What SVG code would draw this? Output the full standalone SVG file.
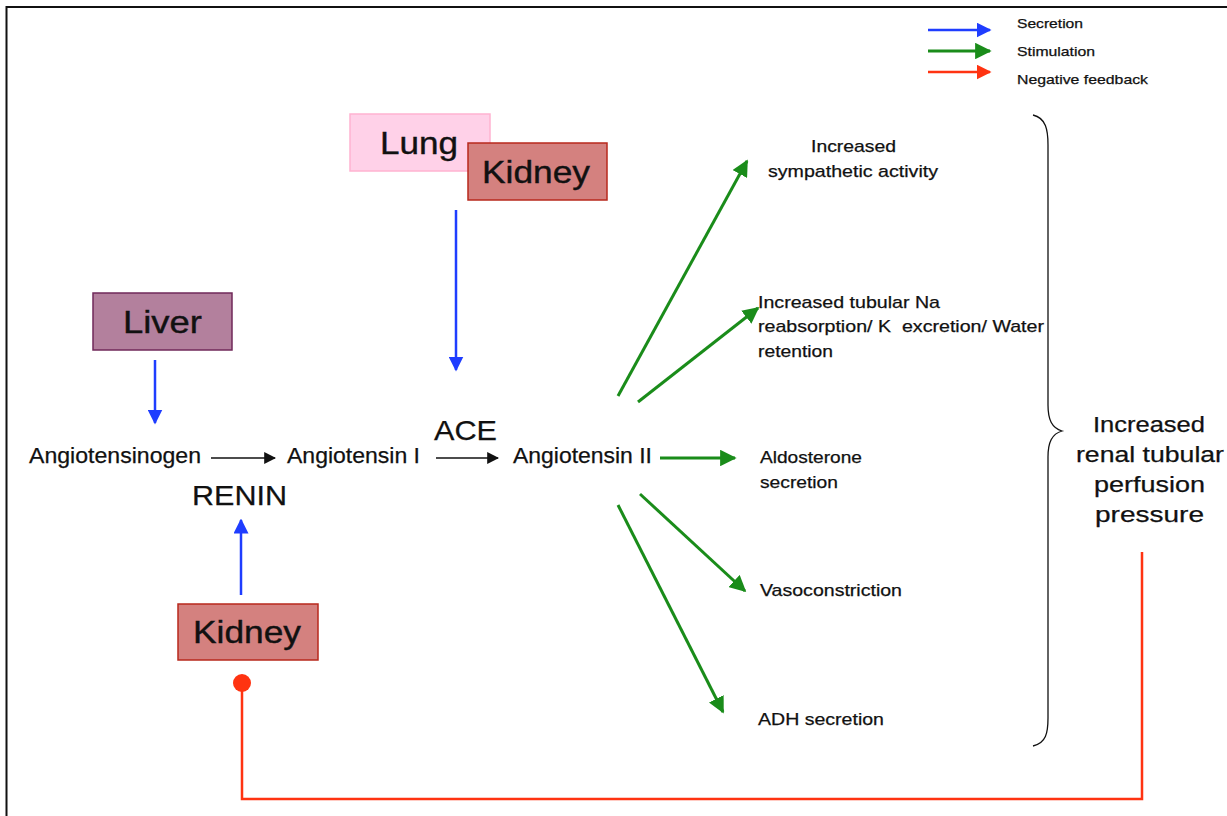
<svg xmlns="http://www.w3.org/2000/svg" width="1227" height="816" viewBox="0 0 1227 816">
<defs>
<style>
text{font-family:"Liberation Sans",Arial,sans-serif;fill:#111}
.box{font-size:32px;stroke:#111;stroke-width:0.4}
.mol{font-size:22px;stroke:#111;stroke-width:0.25}
.enz{font-size:28px;stroke:#111;stroke-width:0.25}
.eff{font-size:17px;stroke:#111;stroke-width:0.25}
.leg{font-size:13px;stroke:#111;stroke-width:0.25}
.blue{stroke:#1f3dff;stroke-width:2.5;fill:none}
.green{stroke:#1a8c1a;stroke-width:3;fill:none}
.red{stroke:#ff3311;stroke-width:2.5;fill:none}
.black{stroke:#111;stroke-width:1.5;fill:none}
</style>
<marker id="mb" viewBox="0 0 10 10" refX="9" refY="5" markerWidth="6" markerHeight="6" markerUnits="strokeWidth" orient="auto"><path d="M0,0L10,5L0,10z" fill="#1f3dff"/></marker>
<marker id="mg" viewBox="0 0 10 10" refX="9" refY="5" markerWidth="5.5" markerHeight="5.5" markerUnits="strokeWidth" orient="auto"><path d="M0,0L10,5L0,10z" fill="#1a8c1a"/></marker>
<marker id="mr" viewBox="0 0 10 10" refX="9" refY="5" markerWidth="6" markerHeight="6" markerUnits="strokeWidth" orient="auto"><path d="M0,0L10,5L0,10z" fill="#ff3311"/></marker>
<marker id="mk" viewBox="0 0 10 10" refX="9" refY="5" markerWidth="8" markerHeight="8" markerUnits="strokeWidth" orient="auto"><path d="M0,0L10,5L0,10z" fill="#111"/></marker>
</defs>
<rect width="1227" height="816" fill="#fff"/>
<path d="M6.5,816V7H1227" stroke="#111" stroke-width="2" fill="none"/>

<g id="legend">
<line class="blue" x1="928" y1="30" x2="990" y2="30" stroke-width="1.5" marker-end="url(#mb)"/>
<line class="green" x1="928" y1="51" x2="990" y2="51" stroke-width="1.5" marker-end="url(#mg)"/>
<line class="red" x1="928" y1="72" x2="990" y2="72" stroke-width="1.5" marker-end="url(#mr)"/>
<text class="leg" x="1017" y="28" textLength="66" lengthAdjust="spacingAndGlyphs">Secretion</text>
<text class="leg" x="1017" y="56" textLength="78" lengthAdjust="spacingAndGlyphs">Stimulation</text>
<text class="leg" x="1017" y="84" textLength="131" lengthAdjust="spacingAndGlyphs">Negative feedback</text>
</g>

<g id="connectors">
<line class="blue" x1="456" y1="210" x2="456" y2="370" marker-end="url(#mb)"/>
<line class="blue" x1="155" y1="360" x2="155" y2="423" marker-end="url(#mb)"/>
<line class="blue" x1="241" y1="595" x2="241" y2="520" marker-end="url(#mb)"/>
<line class="black" x1="211" y1="458" x2="275" y2="458" marker-end="url(#mk)"/>
<line class="black" x1="436" y1="458" x2="498" y2="458" marker-end="url(#mk)"/>
<line class="green" x1="618" y1="396" x2="747" y2="161" marker-end="url(#mg)"/>
<line class="green" x1="638" y1="402" x2="758" y2="308" marker-end="url(#mg)"/>
<line class="green" x1="660" y1="458" x2="735" y2="458" marker-end="url(#mg)"/>
<line class="green" x1="640" y1="494" x2="745" y2="591" marker-end="url(#mg)"/>
<line class="green" x1="618" y1="505" x2="723" y2="712" marker-end="url(#mg)"/>
<path class="red" d="M1142,552V799H242V690"/>
<circle cx="242" cy="683" r="9" fill="#ff3311"/>
<path d="M1033,115C1046,118 1048,130 1048,145V405C1048,420 1052,428 1062,431C1052,434 1048,442 1048,457V718C1048,733 1046,743 1033,746" stroke="#111" stroke-width="1.3" fill="none"/>
</g>

<g id="lung">
<rect x="350" y="114" width="140" height="57" fill="#ffd1e8" stroke="#ffb3d1" stroke-width="1.5"/>
<text class="box" x="380" y="154" textLength="78" lengthAdjust="spacingAndGlyphs">Lung</text>
</g>
<g id="kidney-top">
<rect x="468" y="143" width="139" height="57" fill="#d4817f" stroke="#b8281c" stroke-width="1.5"/>
<text class="box" x="482" y="183" textLength="108" lengthAdjust="spacingAndGlyphs">Kidney</text>
</g>
<g id="liver">
<rect x="93" y="293" width="139" height="57" fill="#b3809d" stroke="#70285a" stroke-width="1.5"/>
<text class="box" x="123" y="333" textLength="79" lengthAdjust="spacingAndGlyphs">Liver</text>
</g>
<g id="kidney-bottom">
<rect x="178" y="604" width="140" height="56" fill="#d4817f" stroke="#b8281c" stroke-width="1.5"/>
<text class="box" x="193" y="643" textLength="108" lengthAdjust="spacingAndGlyphs">Kidney</text>
</g>

<g id="angiotensinogen"><text class="mol" x="29" y="463" textLength="172" lengthAdjust="spacingAndGlyphs">Angiotensinogen</text></g>
<g id="renin"><text class="enz" x="192" y="505" textLength="95" lengthAdjust="spacingAndGlyphs">RENIN</text></g>
<g id="angiotensin1"><text class="mol" x="287" y="463" textLength="133" lengthAdjust="spacingAndGlyphs">Angiotensin I</text></g>
<g id="ace"><text class="enz" x="434" y="440" textLength="63" lengthAdjust="spacingAndGlyphs">ACE</text></g>
<g id="angiotensin2"><text class="mol" x="513" y="463" textLength="139" lengthAdjust="spacingAndGlyphs">Angiotensin II</text></g>

<g id="sympathetic">
<text class="eff" x="811" y="152" textLength="85" lengthAdjust="spacingAndGlyphs">Increased</text>
<text class="eff" x="768" y="177" textLength="170" lengthAdjust="spacingAndGlyphs">sympathetic activity</text>
</g>
<g id="tubular">
<text class="eff" x="758" y="308" textLength="182" lengthAdjust="spacingAndGlyphs">Increased tubular Na</text>
<text class="eff" x="758" y="332" textLength="286" lengthAdjust="spacingAndGlyphs" style="white-space:pre">reabsorption/ K  excretion/ Water</text>
<text class="eff" x="758" y="357" textLength="75" lengthAdjust="spacingAndGlyphs">retention</text>
</g>
<g id="aldosterone">
<text class="eff" x="760" y="463" textLength="102" lengthAdjust="spacingAndGlyphs">Aldosterone</text>
<text class="eff" x="760" y="488" textLength="78" lengthAdjust="spacingAndGlyphs">secretion</text>
</g>
<g id="vasoconstriction"><text class="eff" x="760" y="596" textLength="142" lengthAdjust="spacingAndGlyphs">Vasoconstriction</text></g>
<g id="adh"><text class="eff" x="758" y="725" textLength="126" lengthAdjust="spacingAndGlyphs">ADH secretion</text></g>
<g id="perfusion">
<text class="mol" x="1093" y="432" textLength="112" lengthAdjust="spacingAndGlyphs">Increased</text>
<text class="mol" x="1076" y="462" textLength="148" lengthAdjust="spacingAndGlyphs">renal tubular</text>
<text class="mol" x="1094" y="492" textLength="111" lengthAdjust="spacingAndGlyphs">perfusion</text>
<text class="mol" x="1095" y="522" textLength="109" lengthAdjust="spacingAndGlyphs">pressure</text>
</g>
</svg>
